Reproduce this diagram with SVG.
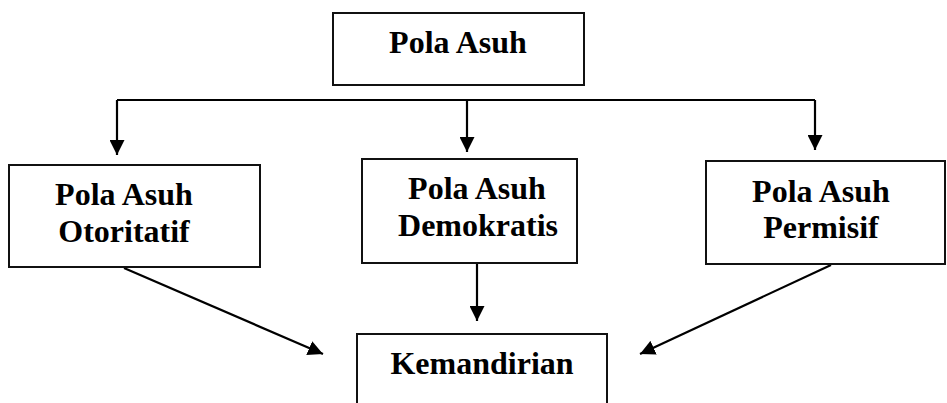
<svg xmlns="http://www.w3.org/2000/svg" width="947" height="403" viewBox="0 0 947 403">
<defs>
<style>
.box{fill:#fff;stroke:#111;stroke-width:2}
.t{font-family:"Liberation Serif","Times New Roman",serif;font-weight:bold;font-size:32px;fill:#000;text-anchor:middle}
.c{fill:none;stroke:#000;stroke-width:2.2}
</style>
<marker id="ah" viewBox="0 0 15 15" refX="15" refY="7.5" markerWidth="15" markerHeight="15" markerUnits="userSpaceOnUse" orient="auto">
<path d="M0,0 L15,7.5 L0,15 Z" fill="#000"/>
</marker>
</defs>
<rect width="947" height="403" fill="#fff"/>
<g id="connectors">
<path class="c" d="M117,100 H815"/>
<path class="c" d="M117,100 V155" marker-end="url(#ah)"/>
<path class="c" d="M467,100 V152" marker-end="url(#ah)"/>
<path class="c" d="M815,100 V150" marker-end="url(#ah)"/>
<path class="c" d="M477,263 V321" marker-end="url(#ah)"/>
<path class="c" d="M124,268 L323,354" marker-end="url(#ah)"/>
<path class="c" d="M831,265 L640,354" marker-end="url(#ah)"/>
</g>
<g id="pola-asuh">
<rect class="box" x="333" y="13" width="251" height="72"/>
<text class="t" x="458" y="53">Pola Asuh</text>
</g>
<g id="otoritatif">
<rect class="box" x="9" y="165" width="251" height="102"/>
<text class="t" x="124" y="205">Pola Asuh</text>
<text class="t" x="124" y="242">Otoritatif</text>
</g>
<g id="demokratis">
<rect class="box" x="362" y="159" width="215" height="104"/>
<text class="t" x="477" y="199">Pola Asuh</text>
<text class="t" x="478" y="236">Demokratis</text>
</g>
<g id="permisif">
<rect class="box" x="706" y="161" width="239" height="103"/>
<text class="t" x="821" y="202">Pola Asuh</text>
<text class="t" x="821" y="238">Permisif</text>
</g>
<g id="kemandirian">
<rect class="box" x="357" y="334" width="250" height="80"/>
<text class="t" x="482" y="374">Kemandirian</text>
</g>
</svg>
